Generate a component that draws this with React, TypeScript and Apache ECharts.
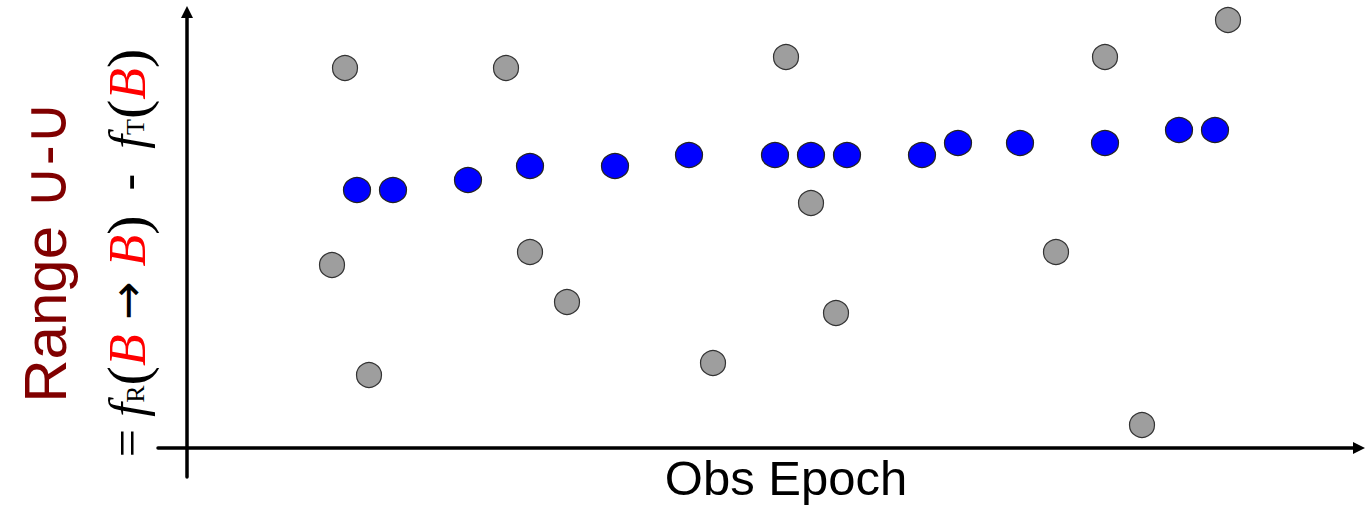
import React, { useEffect, useRef } from "react";
import * as echarts from "echarts";

// Obs epoch (x) and range value (y)
const grayX = [15.8, 14.5, 18.2, 31.9, 34.3, 38.0, 52.6, 59.9, 62.4, 64.9, 86.9, 91.8, 95.5, 104.1];
const grayY = [38.0, 18.3, 7.3, 38.0, 19.6, 14.6, 8.5, 39.1, 24.5, 13.5, 19.6, 39.1, 2.3, 42.8];
const blueX = [17.0, 20.6, 28.1, 34.3, 42.8, 50.2, 58.8, 62.4, 66.0, 73.5, 77.1, 83.3, 91.8, 99.2, 102.8];
const blueY = [25.8, 25.8, 26.8, 28.2, 28.2, 29.3, 29.3, 29.3, 29.3, 29.3, 30.5, 30.5, 30.5, 31.8, 31.8];

const xTitle = "Obs Epoch";
const yTitle1 = "Range \u222A-\u222A";

export default function App() {
  const ref = useRef<HTMLDivElement>(null);
  useEffect(() => {
    if (!ref.current) return;
    const chart = echarts.init(ref.current, undefined, { renderer: "svg" });
    const gray = grayX.map((x, i) => [x, grayY[i]]);
    const blue = blueX.map((x, i) => [x, blueY[i]]);
    const axisLine = {
      show: true,
      onZero: true,
      symbol: ["none", "triangle"],
      symbolSize: [12, 12],
      lineStyle: { color: "#000", width: 3.5 },
    };
    chart.setOption({
      animation: false,
      backgroundColor: "#fff",
      grid: { left: 158, right: 12, top: 12, bottom: 30, outerBoundsMode: "none", containLabel: false },
      xAxis: {
        type: "value",
        min: -2.9,
        max: 117.2,
        axisLine,
        axisTick: { show: false },
        axisLabel: { show: false },
        splitLine: { show: false },
      },
      yAxis: {
        type: "value",
        min: -2.9,
        max: 43.6,
        axisLine,
        axisTick: { show: false },
        axisLabel: { show: false },
        splitLine: { show: false },
      },
      graphic: [
        {
          type: "text",
          x: 786,
          y: 478,
          style: {
            text: xTitle,
            fill: "#000",
            font: "49px 'Liberation Sans', Arial, sans-serif",
            align: "center",
            verticalAlign: "middle",
          },
        },
        {
          type: "text",
          x: 45,
          y: 252,
          rotation: Math.PI / 2,
          style: {
            text: yTitle1,
            fill: "#800000",
            font: "60px 'Liberation Sans', Arial, sans-serif",
            align: "center",
            verticalAlign: "middle",
          },
        },
        {
          type: "text",
          x: 127,
          y: 253,
          rotation: Math.PI / 2,
          style: {
            text: "{n|= }{f|f}{s|R}{p|(}{b|B}{a| \u2192 }{b|B}{p|)}{n|  -  }{f|f}{s|T}{p|(}{b|B}{p|)}",
            align: "center",
            verticalAlign: "middle",
            rich: {
              n: { fontFamily: "Liberation Serif, serif", fontSize: 50, fill: "#000" },
              a: { fontFamily: "DejaVu Sans, sans-serif", fontSize: 46, fill: "#000" },
              f: { fontFamily: "Liberation Serif, serif", fontStyle: "italic", fontSize: 50, fill: "#000" },
              s: { fontFamily: "Liberation Serif, serif", fontSize: 26, fill: "#000", padding: [16, 0, 0, 0] },
              p: { fontFamily: "Liberation Serif, serif", fontSize: 58, fill: "#000" },
              b: { fontFamily: "Liberation Serif, serif", fontStyle: "italic", fontSize: 52, fill: "#ff0000" },
            },
          },
        },
      ],
      series: [
        {
          type: "scatter",
          data: gray,
          symbol: "circle",
          symbolSize: 25,
          itemStyle: { color: "#9e9e9e", borderColor: "#333", borderWidth: 1.2, opacity: 1 },
          z: 3,
        },
        {
          type: "scatter",
          data: blue,
          symbol: "circle",
          symbolSize: [27, 25],
          itemStyle: { color: "#0000ff", borderColor: "#222", borderWidth: 1.2, opacity: 1 },
          z: 4,
        },
      ],
    });
    return () => chart.dispose();
  }, []);
  return (
    <div
      ref={ref}
      style={{ position: "fixed", left: 0, top: 0, width: 1371, height: 507, background: "#fff" }}
    />
  );
}
